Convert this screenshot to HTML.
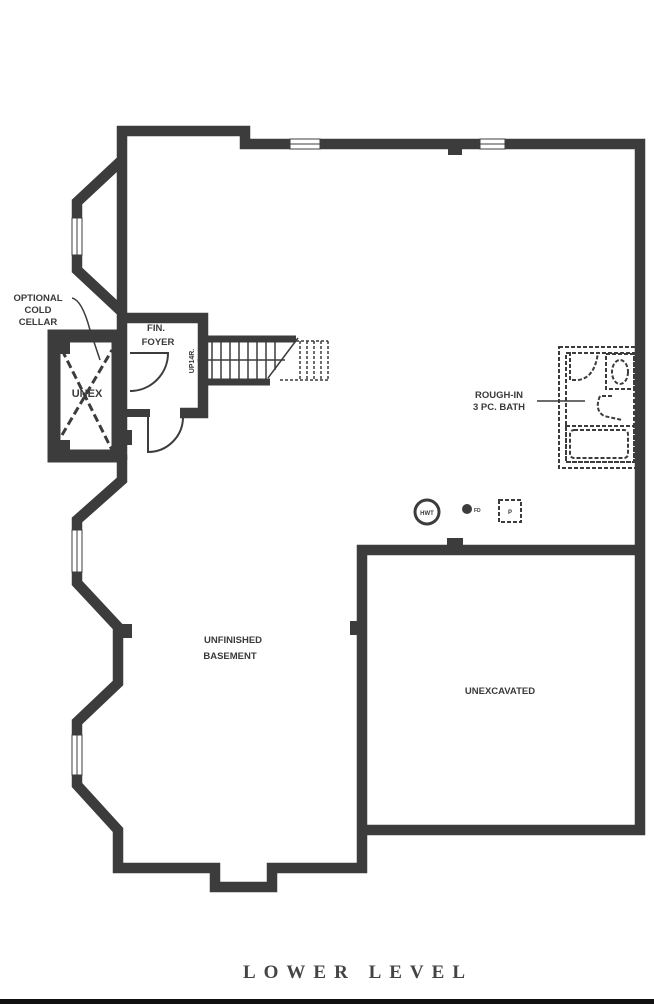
<!DOCTYPE html>
<html><head><meta charset="utf-8"><style>
html,body{margin:0;padding:0;background:#fff;}
svg{display:block;}
.t{font-family:"Liberation Sans",sans-serif;font-weight:bold;fill:#3a3a3a;}
</style></head><body>
<svg width="654" height="1004" viewBox="0 0 654 1004" xmlns="http://www.w3.org/2000/svg">
<rect width="654" height="1004" fill="#fff"/>
<g fill="none" stroke="#3c3c3c" stroke-width="10.5" stroke-linejoin="miter">
<polyline points="122,312 122,131 245,131 245,144 640,144 640,830 362,830"/>
<polyline points="122,312 77,270 77,202 122,160"/>
<polyline points="122,455 122,480 77,520 77,583 118,627 118,683 77,722 77,785 118,830 118,868 215,868 215,887 272,887 272,868 362,868 362,550 640,550"/>
<rect x="54" y="336" width="64" height="120" stroke-width="13"/>
<polyline points="122,312 122,460"/>
<polyline points="122,318 203,318 203,413 180,413"/>
<line x1="125" y1="413" x2="150" y2="413" stroke-width="8"/>
</g>
<g fill="#3c3c3c">
<rect x="448" y="146" width="14" height="9"/>
<rect x="447" y="538" width="16" height="8"/>
<rect x="122" y="624" width="10" height="14"/>
<rect x="350" y="621" width="8" height="14"/>
<rect x="122" y="430" width="10" height="15"/>
<rect x="58" y="342" width="12" height="12"/>
<rect x="58" y="440" width="12" height="12"/>
</g>
<g fill="#fff" stroke="#3c3c3c" stroke-width="1">
<rect x="290" y="139" width="30" height="10"/>
<rect x="480" y="139" width="25" height="10"/>
<rect x="72" y="218" width="10" height="37"/>
<rect x="72" y="530" width="10" height="42"/>
<rect x="72" y="735" width="10" height="40"/>
</g>
<g stroke="#3c3c3c" stroke-width="1">
<line x1="290" y1="144" x2="320" y2="144"/><line x1="480" y1="144" x2="505" y2="144"/>
<line x1="77" y1="218" x2="77" y2="255"/><line x1="77" y1="530" x2="77" y2="572"/><line x1="77" y1="735" x2="77" y2="775"/>
</g>
<g stroke="#3c3c3c" stroke-width="3" stroke-dasharray="8,4" fill="none">
<line x1="62" y1="350" x2="112" y2="450"/>
<line x1="62" y1="435" x2="112" y2="350"/>
</g>
<path d="M72,298 Q82,300 90,330 L100,360" stroke="#3c3c3c" stroke-width="1.5" fill="none"/>
<g stroke="#3c3c3c" stroke-width="2" fill="none">
<path d="M130,353 L168,353 A38,38 0 0 1 130,391"/>
<path d="M148,413 L148,452 A35,35 0 0 0 183,417"/>
</g>
<g stroke="#3c3c3c" fill="none">
<line x1="203" y1="339" x2="296" y2="339" stroke-width="7"/>
<line x1="203" y1="382" x2="270" y2="382" stroke-width="7"/>
<line x1="203" y1="360" x2="285" y2="360" stroke-width="1.5"/>
<g stroke-width="1.5">
<line x1="212" y1="342" x2="212" y2="379"/><line x1="221" y1="342" x2="221" y2="379"/><line x1="230" y1="342" x2="230" y2="379"/><line x1="239" y1="342" x2="239" y2="379"/><line x1="248" y1="342" x2="248" y2="379"/><line x1="257" y1="342" x2="257" y2="379"/><line x1="266" y1="342" x2="266" y2="379"/><line x1="275" y1="342" x2="275" y2="370"/>
<line x1="268" y1="378" x2="298" y2="338"/>
</g>
<g stroke-width="1.5" stroke-dasharray="3,2">
<line x1="296" y1="341" x2="328" y2="341"/><line x1="280" y1="380" x2="328" y2="380"/><line x1="328" y1="341" x2="328" y2="380"/>
<line x1="300" y1="341" x2="300" y2="380"/><line x1="307" y1="341" x2="307" y2="380"/><line x1="314" y1="341" x2="314" y2="380"/><line x1="321" y1="341" x2="321" y2="380"/>
</g>
</g>
<circle cx="200" cy="360" r="2.5" fill="#3c3c3c"/>
<g stroke="#3c3c3c" fill="none" stroke-width="2" stroke-dasharray="4,2">
<rect x="559" y="347" width="78" height="121"/>
<rect x="566" y="353" width="68" height="109"/>
<rect x="566" y="426" width="68" height="36"/>
<rect x="570" y="430" width="58" height="28" rx="4"/>
<rect x="606" y="354" width="28" height="35"/>
<ellipse cx="620" cy="372" rx="8" ry="12"/>
<path d="M570,352 L570,380 L578,380 Q595,378 598,352"/>
<path d="M612,396 L600,396 Q594,410 604,416 L622,420"/>
</g>
<line x1="537" y1="401" x2="585" y2="401" stroke="#3c3c3c" stroke-width="1.5"/>
<ellipse cx="427" cy="512" rx="12" ry="12" fill="#fff" stroke="#3c3c3c" stroke-width="3"/>
<text x="427" y="515" class="t" font-size="6" text-anchor="middle">HWT</text>
<circle cx="467" cy="509" r="5" fill="#3c3c3c"/>
<text x="474" y="512" class="t" font-size="5">FD</text>
<rect x="499" y="500" width="22" height="22" fill="none" stroke="#3c3c3c" stroke-width="2" stroke-dasharray="4,2"/>
<text x="510" y="514" class="t" font-size="6" text-anchor="middle">P</text>
<g class="t" font-size="9.5" text-anchor="middle">
<text x="38" y="301">OPTIONAL</text><text x="38" y="313">COLD</text><text x="38" y="325">CELLAR</text>
<text x="156" y="331">FIN.</text><text x="158" y="345">FOYER</text>
<text x="87" y="397" font-size="11">UNEX</text>
<text x="499" y="398">ROUGH-IN</text><text x="499" y="410">3 PC. BATH</text>
<text x="233" y="643">UNFINISHED</text><text x="230" y="659">BASEMENT</text>
<text x="500" y="694">UNEXCAVATED</text>
</g>
<text x="194" y="361" class="t" font-size="7" text-anchor="middle" transform="rotate(-90 194 361)">UP14R.</text>
<text x="358" y="978" font-family="Liberation Serif,serif" font-weight="bold" font-size="19" fill="#444" text-anchor="middle" letter-spacing="8">LOWER LEVEL</text>
<rect x="0" y="999" width="654" height="5" fill="#111"/>
</svg>
</body></html>
